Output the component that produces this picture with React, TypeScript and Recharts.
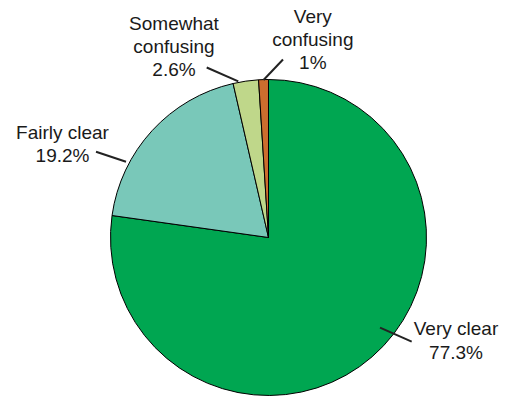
import React from "react";
import { PieChart, Pie, Cell } from "recharts";

const categories = ["Very clear", "Fairly clear", "Somewhat confusing", "Very confusing"];
const values = [77.3, 19.2, 2.6, 1];
const labelLines = [["Very clear"], ["Fairly clear"], ["Somewhat", "confusing"], ["Very", "confusing"]];
const colors = ["#00A651", "#79C8B9", "#BFD78A", "#CD6D2E"];

// label layout, offsets relative to the pie centre
const labelLayout = [
  { l1: [111.5, 90.2], l2: [143.2, 104.2], tx: 187.5, ty: 97.8 },
  { l1: [-142.5, -75.8], l2: [-172.5, -85.8], tx: -206, ty: -98.9 },
  { l1: [-30.2, -156.2], l2: [-61.8, -170], tx: -94.5, ty: -208 },
  { l1: [-5, -157.5], l2: [14.5, -178], tx: 44.3, ty: -215 },
];

const data = categories.map((name, i) => ({ name, value: values[i] }));

const LINE_H = 23.4;

const renderLabel = (props: any) => {
  const { cx, cy, index } = props;
  const lay = labelLayout[index];
  const lines = [...labelLines[index], `${values[index]}%`];
  return (
    <g key={`lbl-${index}`}>
      <line
        x1={cx + lay.l1[0]}
        y1={cy + lay.l1[1]}
        x2={cx + lay.l2[0]}
        y2={cy + lay.l2[1]}
        stroke="#222"
        strokeWidth={2}
      />
      <text
        x={cx + lay.tx}
        y={cy + lay.ty}
        textAnchor="middle"
        fill="#1a1a1a"
        fontFamily="'Liberation Sans', Arial, sans-serif"
        fontSize={19}
      >
        {lines.map((t, k) => (
          <tspan key={k} x={cx + lay.tx} y={cy + lay.ty + k * LINE_H}>
            {t}
          </tspan>
        ))}
      </text>
    </g>
  );
};

export default function App() {
  return (
    <div style={{ position: "absolute", left: 0, top: 0, width: 511, height: 401, background: "#fff" }}>
      <PieChart width={511} height={401} margin={{ top: 0, right: 0, bottom: 0, left: 0 }}>
        <Pie
          data={data}
          dataKey="value"
          nameKey="name"
          cx={268.5}
          cy={237.5}
          outerRadius={158}
          startAngle={90}
          endAngle={-270}
          stroke="#000"
          strokeWidth={1}
          label={renderLabel}
          labelLine={false}
          isAnimationActive={false}
        >
          {data.map((d, i) => (
            <Cell key={d.name} fill={colors[i]} />
          ))}
        </Pie>
      </PieChart>
    </div>
  );
}
